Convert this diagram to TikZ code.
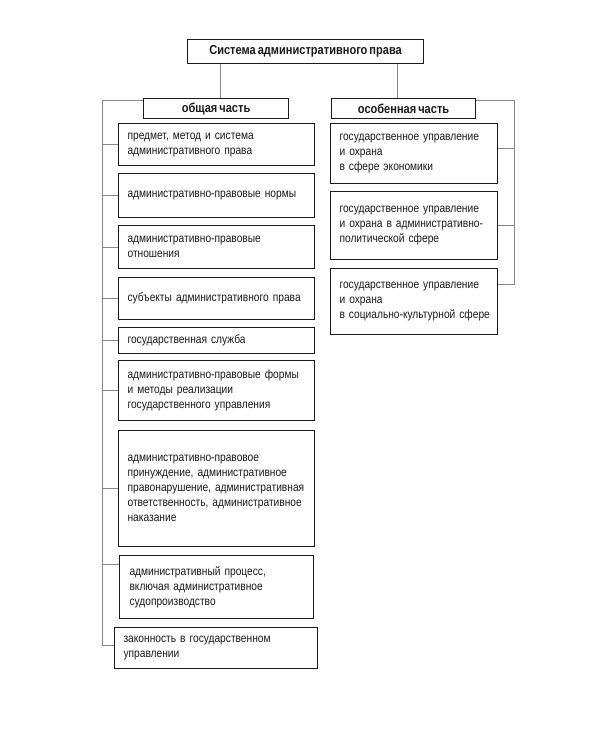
\documentclass[tikz,border=0pt]{standalone}
\usepackage{fontspec}
\setmainfont[FakeStretch=0.85,WordSpace=0.65]{Liberation Sans}
\definecolor{ink}{HTML}{1A1A1A}
\definecolor{wirec}{HTML}{888888}
\begin{document}
\begin{tikzpicture}[x=1pt,y=-1pt,
 box/.style={draw=ink, line width=1.1pt, anchor=north west, inner xsep=9pt, inner ysep=0pt, align=left, text=ink, font=\fontsize{12}{15}\selectfont},
 hbox/.style={draw=ink, line width=1.1pt, anchor=north west, inner sep=0pt, align=center, text=ink, font=\bfseries\fontsize{13}{15}\selectfont},
 wire/.style={draw=wirec, line width=0.7pt}]
\useasboundingbox[fill=white] (0,0) rectangle (600,750);

\node[hbox, minimum width=236pt, minimum height=24pt] (t) at (187,39) {Система административного права};
\node[hbox, minimum width=145pt, minimum height=20pt] (h1) at (143,98) {общая часть};
\node[hbox, minimum width=144pt, minimum height=20pt] (h2) at (331,98) {особенная часть};

\node[box, text width=178pt, minimum height=42pt] (g1) at (118,123) {предмет, метод и система\\административного права};
\node[box, text width=178pt, minimum height=44pt] (g2) at (118,173) {административно-правовые нормы};
\node[box, text width=178pt, minimum height=43pt] (g3) at (118,225) {административно-правовые\\отношения};
\node[box, text width=178pt, minimum height=42pt] (g4) at (118,277) {субъекты административного права};
\node[box, text width=178pt, minimum height=26pt] (g5) at (118,327) {государственная служба};
\node[box, text width=178pt, minimum height=60pt] (g6) at (118,360) {административно-правовые формы\\и методы реализации\\государственного управления};
\node[box, text width=178pt, minimum height=116pt] (g7) at (118,430) {административно-правовое\\принуждение, административное\\\mbox{правонарушение, административная}\\\mbox{ответственность, административное}\\наказание};
\node[box, text width=176pt, minimum height=63pt, inner xsep=10pt, text width=174pt] (g8) at (119,555) {административный процесс,\\включая административное\\судопроизводство};
\node[box, text width=185pt, minimum height=41pt] (g9) at (114,627) {законность в государственном\\управлении};

\node[box, text width=149pt, minimum height=60pt] (r1) at (330,123) {государственное управление\\и охрана\\в сфере экономики};
\node[box, text width=149pt, minimum height=68pt] (r2) at (330,191) {государственное управление\\и охрана в административно-\\политической сфере};
\node[box, text width=149pt, minimum height=66pt] (r3) at (330,268) {государственное управление\\и охрана\\\mbox{в социально-культурной сфере}};

\coordinate (LT) at (102,100);
\coordinate (LB) at (102,645);
\coordinate (RT) at (514,100);
\coordinate (RB) at (514,284);

\draw[wire] (t.south -| 220,0) -- (h1.north -| 220,0);
\draw[wire] (t.south -| 397,0) -- (h2.north -| 397,0);

\draw[wire] (h1.west |- LT) -- (LT) -- (LB) -- (g9.west |- LB);
\draw[wire] (g1.west) -- (g1.west -| LT);
\draw[wire] (g2.west) -- (g2.west -| LT);
\draw[wire] (g3.west) -- (g3.west -| LT);
\draw[wire] (g4.west) -- (g4.west -| LT);
\draw[wire] (g5.west) -- (g5.west -| LT);
\draw[wire] (g6.west) -- (g6.west -| LT);
\draw[wire] (g7.west) -- (g7.west -| LT);
\draw[wire] ([yshift=-9pt]g8.north west) -- ([yshift=-9pt]g8.north west -| LT);

\draw[wire] (h2.east |- RT) -- (RT) -- (RB) -- (r3.east |- RB);
\draw[wire] ([yshift=-25pt]r1.north east) -- ([yshift=-25pt]r1.north east -| RT);
\draw[wire] (r2.east) -- (r2.east -| RT);
\end{tikzpicture}
\end{document}
